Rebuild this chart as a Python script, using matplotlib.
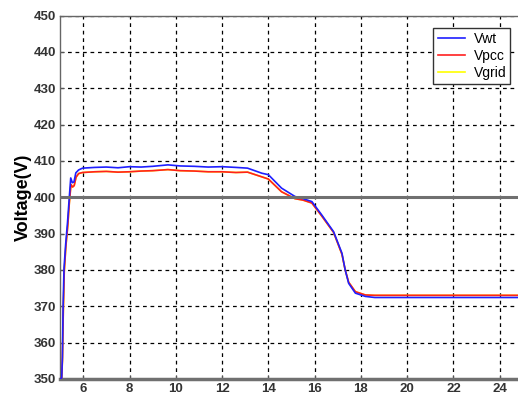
import matplotlib
matplotlib.use('Agg')
import matplotlib.pyplot as plt

# time (s) and voltages
t_wt = [5.0, 5.07, 5.1, 5.13, 5.17, 5.24, 5.32, 5.39, 5.46, 5.53, 5.6, 5.68, 5.8, 5.97,
        6.5, 7.0, 7.5, 8.0, 8.5, 9.0, 9.66, 10.2, 10.8, 11.4, 12.0, 12.6, 13.1, 13.72,
        14.0, 14.57, 15.15, 15.5, 15.88, 16.31, 16.82, 17.18, 17.32, 17.47, 17.76, 18.19,
        18.6, 20.0, 22.0, 25.0]
v_wt = [350.0, 350.3, 356.0, 370.0, 380.5, 387.0, 393.0, 399.3, 405.3, 404.0, 404.2, 406.7,
        407.5, 408.0, 408.2, 408.3, 408.1, 408.4, 408.3, 408.5, 408.9, 408.6, 408.5, 408.3,
        408.4, 408.2, 408.0, 406.6, 406.2, 402.5, 400.2, 399.6, 398.8, 395.1, 390.5, 384.6,
        380.0, 376.3, 373.6, 372.7, 372.4, 372.4, 372.4, 372.4]

t_pcc = [5.0, 5.07, 5.1, 5.14, 5.18, 5.25, 5.33, 5.4, 5.47, 5.54, 5.61, 5.69, 5.8, 5.97,
         6.5, 7.0, 7.5, 8.0, 8.5, 9.0, 9.66, 10.2, 10.8, 11.4, 12.0, 12.6, 13.1, 13.72,
         14.0, 14.57, 15.15, 15.5, 15.88, 16.31, 16.82, 17.18, 17.32, 17.47, 17.76, 18.19,
         18.6, 20.0, 22.0, 25.0]
v_pcc = [350.0, 350.3, 355.0, 369.0, 379.5, 386.5, 392.0, 398.5, 403.5, 402.8, 403.2, 405.5,
         406.5, 406.8, 407.0, 407.1, 406.9, 407.0, 407.2, 407.3, 407.6, 407.3, 407.2, 407.0,
         407.0, 406.8, 406.9, 405.6, 405.0, 401.5, 399.6, 399.2, 398.4, 394.8, 390.3, 384.3,
         380.0, 376.6, 374.0, 373.1, 373.0, 373.0, 373.0, 373.0]

t_grid = t_pcc
v_grid = v_pcc

xticks = [6, 8, 10, 12, 14, 16, 18, 20, 22, 24]
yticks = [350, 360, 370, 380, 390, 400, 410, 420, 430, 440, 450]

plt.rcParams['font.family'] = ['Liberation Sans', 'DejaVu Sans']

fig = plt.figure(figsize=(5.18, 3.98), dpi=100)
ax = fig.add_axes([0.116, 0.048, 0.889, 0.913])

ax.plot(t_grid, v_grid, color='#ffff00', linewidth=1.2, label='Vgrid', zorder=2)
ax.plot(t_pcc, v_pcc, color='#ff2020', linewidth=1.2, label='Vpcc', zorder=3)
ax.plot(t_wt, v_wt, color='#1f1fff', linewidth=1.2, label='Vwt', zorder=4)

ax.axhline(400, color='#707070', linewidth=2.2, zorder=5)

ax.set_xlim(5, 24.9)
ax.set_ylim(350, 450)
ax.set_xticks(xticks)
ax.set_yticks(yticks)
ax.tick_params(direction='in', length=3, labelsize=9.5, color='#555555', pad=3)
for lab in ax.get_xticklabels() + ax.get_yticklabels():
    lab.set_fontweight('bold')
    lab.set_color('#333333')

ax.grid(True, color='black', linestyle=(0, (3, 3)), linewidth=0.9)

for s in ['left', 'top', 'right']:
    ax.spines[s].set_color('#666666')
    ax.spines[s].set_linewidth(1.0)
ax.spines['bottom'].set_color('#707070')
ax.spines['bottom'].set_linewidth(2.5)

ax.set_ylabel('Voltage(V)', fontsize=13, fontweight='bold', labelpad=1)

handles, labels = ax.get_legend_handles_labels()
order = [2, 1, 0]
ax.legend([handles[i] for i in order], [labels[i] for i in order],
          loc='upper right', bbox_to_anchor=(0.993, 0.985), fontsize=10,
          fancybox=False, edgecolor='#333333', framealpha=1,
          handlelength=2.0, handletextpad=0.6, borderpad=0.3, labelspacing=0.2)

fig.savefig('out.png', dpi=100)
